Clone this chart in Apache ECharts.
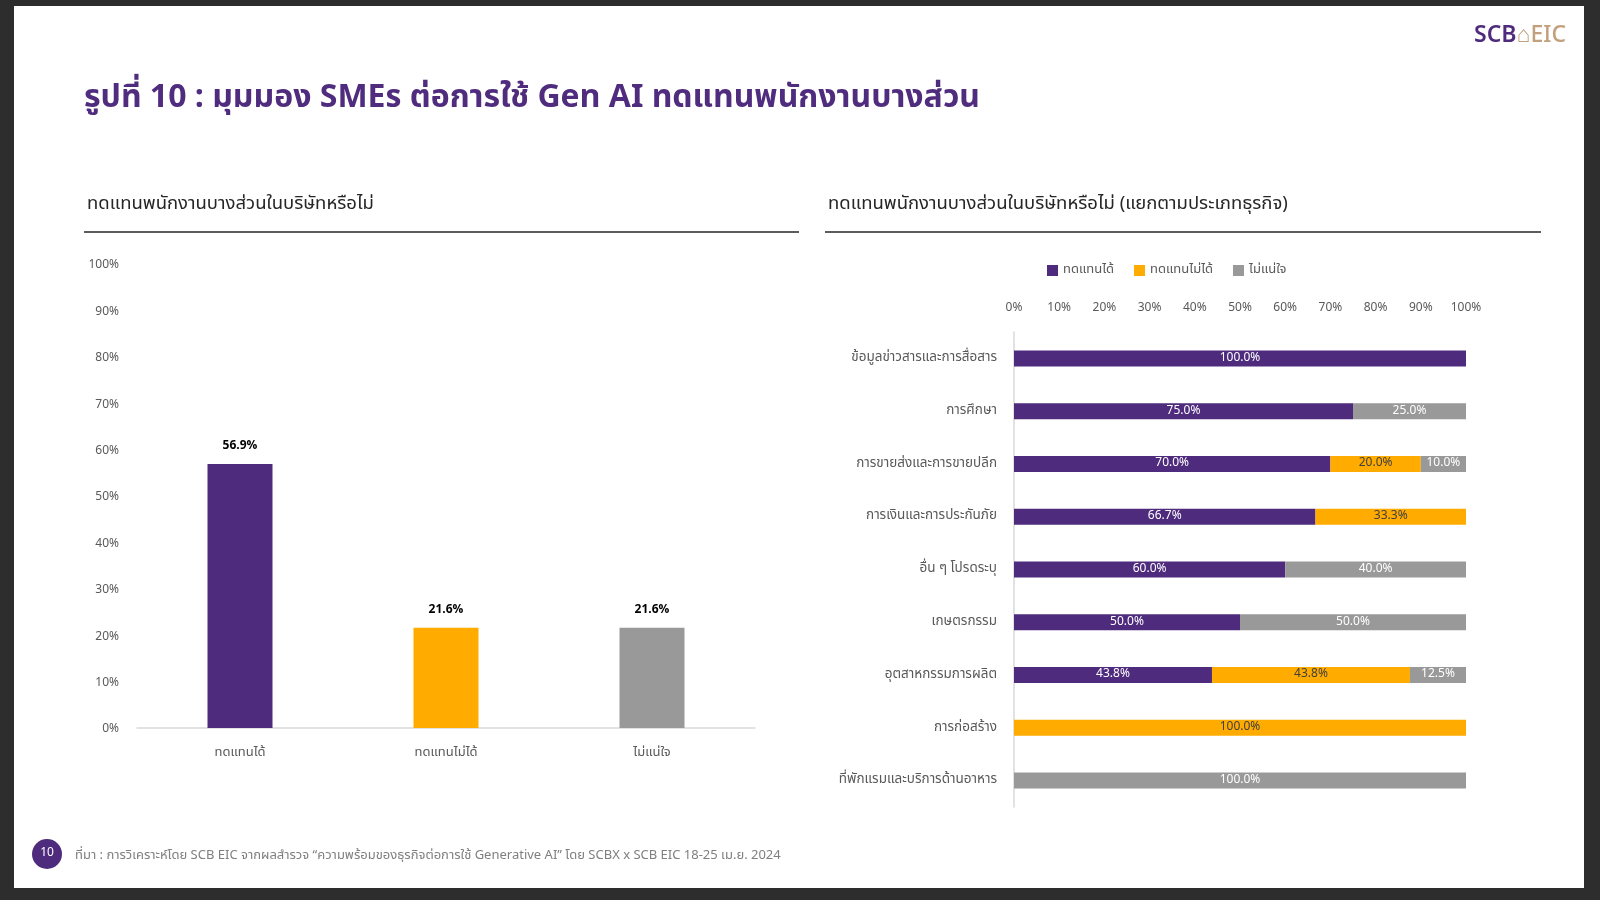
<!DOCTYPE html>
<html>
<head>
<meta charset="utf-8">
<script src="https://cdn.jsdelivr.net/npm/echarts@6/dist/echarts.min.js"></script>
<style>
  html, body { margin: 0; padding: 0; background: #2d2d2d; width: 1600px; height: 900px; overflow: hidden; }
  #slide { position: absolute; left: 14px; top: 6px; width: 1570px; height: 882px; background: #ffffff; }
  #chart { position: absolute; left: 0; top: 0; width: 1600px; height: 900px; }
</style>
</head>
<body>
<div id="slide"></div>
<div id="chart"></div>
<script>
// ---- data ----
const overallCategories = ['ทดแทนได้', 'ทดแทนไม่ได้', 'ไม่แน่ใจ'];
const overallValues = [56.9, 21.6, 21.6];

const sectorCategories = [
  'ข้อมูลข่าวสารและการสื่อสาร',
  'การศึกษา',
  'การขายส่งและการขายปลีก',
  'การเงินและการประกันภัย',
  'อื่น ๆ โปรดระบุ',
  'เกษตรกรรม',
  'อุตสาหกรรมการผลิต',
  'การก่อสร้าง',
  'ที่พักแรมและบริการด้านอาหาร'
];
const replaceable = [100.0, 75.0, 70.0, 66.7, 60.0, 50.0, 43.8, null, null];
const notReplaceable = [null, null, 20.0, 33.3, null, null, 43.8, 100.0, null];
const notSure = [null, 25.0, 10.0, null, 40.0, 50.0, 12.5, null, 100.0];
const percentTicks = [0, 10, 20, 30, 40, 50, 60, 70, 80, 90, 100];

// ---- styles ----
const FONT = "'Noto Sans Thai', 'Tahoma', 'Noto Sans', sans-serif";
const PURPLE = '#4f2b7e';
const ORANGE = '#ffab00';
const GRAY = '#999999';
const TEXT_GRAY = '#595959';

const chart = echarts.init(document.getElementById('chart'), null, { renderer: 'canvas' });

const pctFmt = v => v + '%';

const option = {
  backgroundColor: 'transparent',
  textStyle: { fontFamily: FONT },
  animation: false,
  title: [
    { text: 'รูปที่ 10 : มุมมอง SMEs ต่อการใช้ Gen AI ทดแทนพนักงานบางส่วน', left: 79, top: 80,
      textStyle: { fontFamily: FONT, fontSize: 32, fontWeight: 'bold', color: '#502c7f' } },
    { text: 'ทดแทนพนักงานบางส่วนในบริษัทหรือไม่', left: 82, top: 191,
      textStyle: { fontFamily: FONT, fontSize: 18.5, fontWeight: 'normal', color: '#262626' } },
    { text: 'ทดแทนพนักงานบางส่วนในบริษัทหรือไม่ (แยกตามประเภทธุรกิจ)', left: 823, top: 191,
      textStyle: { fontFamily: FONT, fontSize: 18.5, fontWeight: 'normal', color: '#262626' } },
    { text: 'ที่มา : การวิเคราะห์โดย SCB EIC จากผลสำรวจ “ความพร้อมของธุรกิจต่อการใช้ Generative AI” โดย SCBX x SCB EIC 18-25 เม.ย. 2024',
      left: 70, top: 845, textStyle: { fontFamily: FONT, fontSize: 13, fontWeight: 'normal', color: '#7f7f7f' } }
  ],
  graphic: [
    { type: 'line', shape: { x1: 84, y1: 232, x2: 799, y2: 232 }, style: { stroke: '#262626', lineWidth: 1.5 } },
    { type: 'line', shape: { x1: 825, y1: 232, x2: 1541, y2: 232 }, style: { stroke: '#262626', lineWidth: 1.5 } },
    { type: 'circle', shape: { cx: 47, cy: 854, r: 15 }, style: { fill: '#4f2b7e' } },
    { type: 'text', x: 47, y: 854, style: { text: '10', fill: '#ffffff', font: '12px ' + FONT, textAlign: 'center', textVerticalAlign: 'middle' } },
    { type: 'text', x: 1566, y: 37, style: {
        text: '{a|SCB}{b|⌂EIC}', textAlign: 'right', textVerticalAlign: 'middle',
        rich: {
          a: { fontFamily: FONT, fontSize: 23, fontWeight: 600, fill: '#4f2b7e', color: '#4f2b7e' },
          b: { fontFamily: FONT, fontSize: 23, fontWeight: 500, fill: '#c2a07e', color: '#c2a07e' }
        } } }
  ],
  legend: {
    data: ['ทดแทนได้', 'ทดแทนไม่ได้', 'ไม่แน่ใจ'],
    left: 1042, top: 259, itemWidth: 11, itemHeight: 11, itemGap: 20, icon: 'rect',
    textStyle: { fontFamily: FONT, fontSize: 13, color: TEXT_GRAY }
  },
  grid: [
    { left: 137, top: 264, width: 618, height: 464 },
    { left: 1014, top: 332, width: 452, height: 475 }
  ],
  xAxis: [
    { gridIndex: 0, type: 'category', data: overallCategories,
      axisLine: { lineStyle: { color: '#d9d9d9', width: 1.5 } }, axisTick: { show: false },
      axisLabel: { color: TEXT_GRAY, fontSize: 13, margin: 19, fontFamily: FONT } },
    { gridIndex: 1, type: 'value', position: 'top', min: percentTicks[0], max: percentTicks[percentTicks.length - 1], interval: 10,
      axisLine: { show: false }, axisTick: { show: false }, splitLine: { show: false },
      axisLabel: { color: TEXT_GRAY, fontSize: 12, margin: 17, formatter: pctFmt, fontFamily: FONT } }
  ],
  yAxis: [
    { gridIndex: 0, type: 'value', min: percentTicks[0], max: percentTicks[percentTicks.length - 1], interval: 10,
      axisLine: { show: false }, axisTick: { show: false }, splitLine: { show: false },
      axisLabel: { color: TEXT_GRAY, fontSize: 12, margin: 18, formatter: pctFmt, fontFamily: FONT,
        verticalAlign: 'top', padding: [-4, 0, 0, 0] } },
    { gridIndex: 1, type: 'category', data: sectorCategories, inverse: true,
      axisLine: { show: true, lineStyle: { color: '#d9d9d9', width: 1.5 } }, axisTick: { show: false },
      axisLabel: { color: TEXT_GRAY, fontSize: 13.5, margin: 17, fontFamily: FONT } }
  ],
  series: [
    { type: 'bar', xAxisIndex: 0, yAxisIndex: 0, barWidth: 65,
      data: overallValues.map((v, i) => ({ value: v, itemStyle: { color: [PURPLE, ORANGE, GRAY][i] } })),
      label: { show: true, position: 'top', distance: 11, fontFamily: FONT, fontSize: 12, fontWeight: 'bold', color: '#000000',
        formatter: p => p.value.toFixed(1) + '%' } },
    { name: 'ทดแทนได้', type: 'bar', stack: 's', xAxisIndex: 1, yAxisIndex: 1, barWidth: 16,
      itemStyle: { color: PURPLE }, data: replaceable,
      label: { show: true, position: 'inside', color: '#ffffff', fontSize: 12, fontFamily: FONT,
        formatter: p => p.value == null ? '' : p.value.toFixed(1) + '%' } },
    { name: 'ทดแทนไม่ได้', type: 'bar', stack: 's', xAxisIndex: 1, yAxisIndex: 1, barWidth: 16,
      itemStyle: { color: ORANGE }, data: notReplaceable,
      label: { show: true, position: 'inside', color: '#404040', fontSize: 12, fontFamily: FONT,
        formatter: p => p.value == null ? '' : p.value.toFixed(1) + '%' } },
    { name: 'ไม่แน่ใจ', type: 'bar', stack: 's', xAxisIndex: 1, yAxisIndex: 1, barWidth: 16,
      itemStyle: { color: GRAY }, data: notSure,
      label: { show: true, position: 'inside', color: '#ffffff', fontSize: 12, fontFamily: FONT,
        formatter: p => p.value == null ? '' : p.value.toFixed(1) + '%' } }
  ]
};
chart.setOption(option);
</script>
</body>
</html>
